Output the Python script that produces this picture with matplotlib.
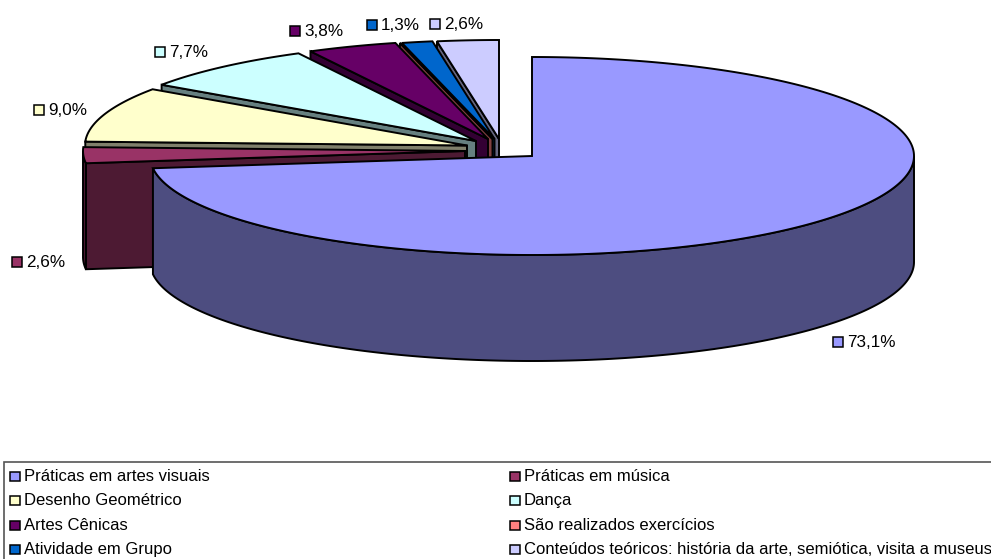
import numpy as np
import matplotlib
matplotlib.use("Agg")
import matplotlib.pyplot as plt
from matplotlib.patches import Polygon, Rectangle

categories = ["Práticas em artes visuais", "Práticas em música", "Desenho Geométrico", "Dança",
              "Artes Cênicas", "São realizados exercícios", "Atividade em Grupo",
              "Conteúdos teóricos: história da arte, semiótica, visita a museus"]
values = [73.1, 2.6, 9.0, 7.7, 3.8, 0.0, 1.3, 2.6]

top_colors = ["#9999FF", "#993366", "#FFFFCC", "#CCFFFF", "#660066", "#FF8080", "#0066CC", "#CCCCFF"]
wall_colors = ["#4D4D80", "#4D1A33", "#80806B", "#668080", "#330033", "#804040", "#003366", "#666680"]

# layout (pixels): slice pivots in the exploded pie
pivots = [(532, 156), (465, 151), (467, 145.5), (476, 141), (488, 139), (492.5, 139), (494.5, 139), (499, 139)]
RX, RY, DEPTH = 382, 99, 106
# label markers (pixels); slice with no share has no label
label_pos = [(838, 342), (17, 262), (39, 110), (160, 52), (295, 31), None, (372, 25), (435, 24)]
legend_rows = [476, 500, 525, 549]
legend_cols = [15, 515]

plt.rcParams["font.family"] = ["Liberation Sans", "DejaVu Sans"]
W, H = 991, 559
fig = plt.figure(figsize=(W / 100, H / 100), dpi=100)
ax = fig.add_axes([0, 0, 1, 1])
ax.set_xlim(0, W)
ax.set_ylim(H, 0)
ax.axis("off")

LW = 1.4
vals = np.array(values)
edges = np.concatenate([[0], np.cumsum(vals)]) / vals.sum() * 2 * np.pi


def rim(c, a):
    return np.column_stack([c[0] + RX * np.sin(a), c[1] - RY * np.cos(a)])


def poly(pts, fc, z):
    ax.add_patch(Polygon(pts, closed=True, facecolor=fc, edgecolor="black", linewidth=LW,
                         joinstyle="miter", zorder=z))


for z, i in enumerate([7, 6, 5, 4, 3, 2, 1, 0]):
    c = np.array(pivots[i], float)
    a0, a1 = edges[i], edges[i + 1]
    arc = rim(c, np.linspace(a0, a1, max(3, int((a1 - a0) * 120))))
    down = np.array([0, DEPTH])
    base = z * 4
    if i != 0:
        # cut face at the start angle
        poly(np.array([c, arc[0], arc[0] + down, c + down]), wall_colors[i], base)
    # outer wall, front half only
    lo, hi = max(a0, np.pi / 2), min(a1, 3 * np.pi / 2)
    if hi > lo:
        w = rim(c, np.linspace(lo, hi, 300))
        poly(np.vstack([w, (w + down)[::-1]]), wall_colors[i], base + 1)
    poly(np.vstack([c, arc]), top_colors[i], base + 2)

for pos, v, col in zip(label_pos, values, top_colors):
    if pos is None:
        continue
    ax.add_patch(Rectangle((pos[0] - 5, pos[1] - 5), 10, 10, facecolor=col, edgecolor="black",
                           linewidth=1.1, zorder=60))
    ax.text(pos[0] + 9, pos[1] + 0.5, f"{v:.1f}%".replace(".", ","), fontsize=12.3, va="center", ha="left",
            color="black", zorder=60)

# legend frame
ax.plot([991, 3.5, 3.5], [461.5, 461.5, 559], color="#555555", lw=1.2, zorder=50, solid_joinstyle="miter")
for k, (name, col) in enumerate(zip(categories, top_colors)):
    x = legend_cols[k % 2]
    y = legend_rows[k // 2]
    ax.add_patch(Rectangle((x - 5, y - 4.5), 10, 9, facecolor=col, edgecolor="black", linewidth=1.1, zorder=60))
    ax.text(x + 9, y + 0.5, name, fontsize=12, va="center", ha="left", color="black", zorder=60)

fig.savefig("out.png", dpi=100, facecolor="white")
